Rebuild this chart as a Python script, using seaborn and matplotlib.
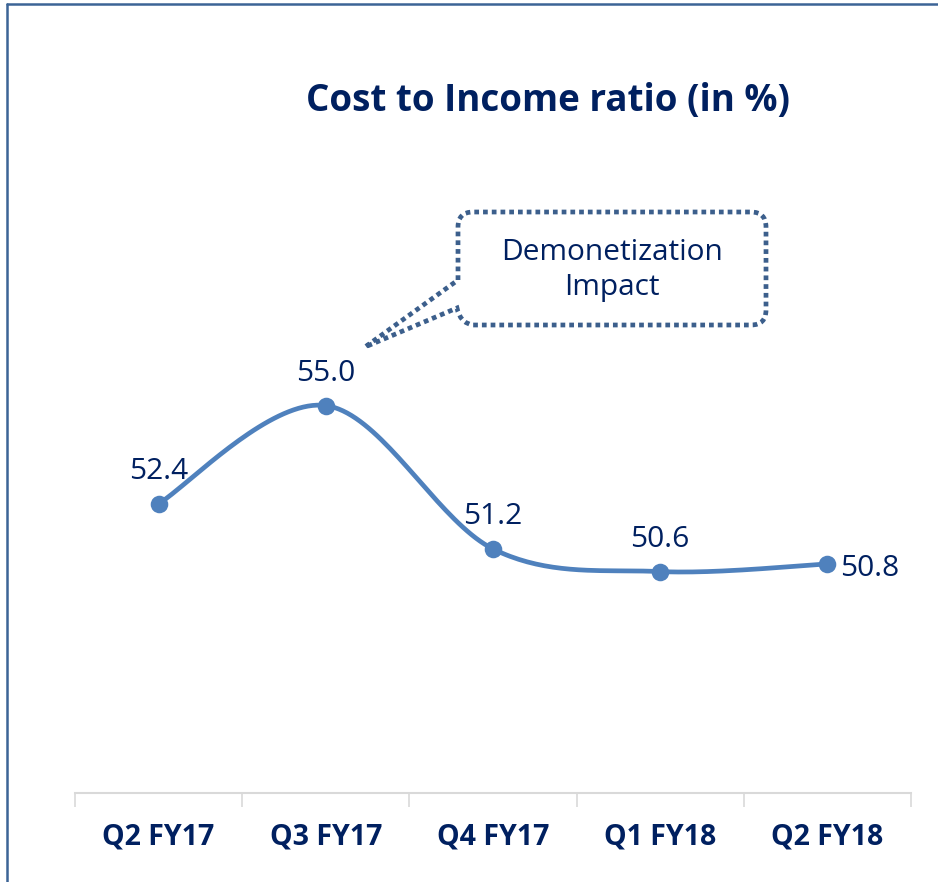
import numpy as np
import pandas as pd
import matplotlib
matplotlib.use("Agg")
import matplotlib.pyplot as plt
import seaborn as sns
from matplotlib.path import Path
from matplotlib.patches import PathPatch
from matplotlib.lines import Line2D

# =========================
# DADOS
# =========================
quarters = ["Q2 FY17", "Q3 FY17", "Q4 FY17", "Q1 FY18", "Q2 FY18"]
ratio = [52.4, 55.0, 51.2, 50.6, 50.8]
title = "Cost to Income ratio (in %)"
callout_text = "Demonetization\nImpact"

# =========================
# CORES / ESTILO
# =========================
navy = "#002060"
line_blue = "#4F81BD"
frame_blue = "#3C6496"
callout_blue = "#3C5F8C"

sns.set_theme(style="white")
plt.rcParams["font.family"] = ["Open Sans", "DejaVu Sans"]

W, H = 938, 882
fig = plt.figure(figsize=(W / 100, H / 100), dpi=100)
ax = fig.add_axes([75 / W, 1 - 793 / H, (911 - 75) / W, (793 - 100) / H])


def px(x, y):
    # pixel (topo-esquerda) -> fração da figura
    return x / W, 1 - y / H


# =========================
# CURVA SUAVIZADA (Catmull-Rom, como no Excel)
# =========================
xi = np.arange(len(ratio), dtype=float)
yi = np.array(ratio)
pts = np.column_stack([xi, yi])
ext = np.vstack([pts[0], pts, pts[-1]])
curve = []
for i in range(len(pts) - 1):
    p0, p1, p2, p3 = ext[i], ext[i + 1], ext[i + 2], ext[i + 3]
    c1 = p1 + (p2 - p0) / 6
    c2 = p2 - (p3 - p1) / 6
    t = np.linspace(0, 1, 40)[:, None]
    seg = ((1 - t) ** 3) * p1 + 3 * ((1 - t) ** 2) * t * c1 + 3 * (1 - t) * t ** 2 * c2 + t ** 3 * p2
    curve.append(seg if i == 0 else seg[1:])
curve = np.vstack(curve)
smooth = pd.DataFrame({"x": curve[:, 0], "y": curve[:, 1]})
df = pd.DataFrame({"x": xi, "y": yi, "q": quarters})

sns.lineplot(data=smooth, x="x", y="y", sort=False, color=line_blue, lw=3.4, ax=ax)
sns.scatterplot(data=df, x="x", y="y", color=line_blue, s=160, edgecolor=line_blue,
                linewidth=0, zorder=5, ax=ax)

# rótulos dos valores
for i, v in enumerate(ratio):
    if i == len(ratio) - 1:
        ax.annotate(f"{v:.1f}", (i, v), xytext=(9, -3), textcoords="offset points",
                    ha="left", va="center", fontsize=21.5, color=navy)
    else:
        ax.annotate(f"{v:.1f}", (i, v), xytext=(0, 13), textcoords="offset points",
                    ha="center", va="bottom", fontsize=21.5, color=navy)

# =========================
# EIXOS
# =========================
ax.set_xlim(-0.5, len(quarters) - 0.5)
ax.set_ylim(44.73, 63.1)
ax.set_yticks([])
ax.set_xticks(xi)
ax.set_xticklabels(quarters, fontsize=20.5, fontweight="bold", color=navy)
ax.set_xticks(np.arange(-0.5, len(quarters)), minor=True)
ax.tick_params(axis="x", which="major", length=0, pad=21)
ax.tick_params(axis="x", which="minor", length=10, width=1.2, color="#D9D9D9", bottom=True)
ax.set_xlabel("")
ax.set_ylabel("")
for s in ["top", "right", "left"]:
    ax.spines[s].set_visible(False)
ax.spines["bottom"].set_color("#D9D9D9")
ax.spines["bottom"].set_linewidth(1.5)

fig.text(548 / W, 1 - 101 / H, title, ha="center", va="center",
         fontsize=26.5, fontweight="bold", color=navy)

# =========================
# BALÃO "Demonetization Impact"
# =========================
x0, x1, y0, y1, r = 458, 766, 212, 325, 15
tip = (365, 347)
verts = [
    (x0, 280), (x0, y0 + r), (x0, y0), (x0 + r, y0),
    (x1 - r, y0), (x1, y0), (x1, y0 + r),
    (x1, y1 - r), (x1, y1), (x1 - r, y1),
    (x0 + r, y1), (x0 + 2, y1 - 2), (457, 308),
    tip, (x0, 280),
]
codes = [Path.MOVETO, Path.LINETO, Path.CURVE3, Path.CURVE3,
         Path.LINETO, Path.CURVE3, Path.CURVE3,
         Path.LINETO, Path.CURVE3, Path.CURVE3,
         Path.LINETO, Path.CURVE3, Path.CURVE3,
         Path.LINETO, Path.LINETO]
callout = PathPatch(Path([px(*v) for v in verts], codes), transform=fig.transFigure,
                    facecolor="white", edgecolor=callout_blue, lw=3.4,
                    linestyle=(0, (1, 0.85)), capstyle="butt", zorder=10)
fig.add_artist(callout)
fig.text(612 / W, 1 - 270 / H, callout_text, ha="center", va="center",
         fontsize=21.5, color=navy, linespacing=1.3, zorder=11)

# moldura (esquerda e topo)
fig.add_artist(Line2D([7 / W, 7 / W], [0, 1 - 4 / H], color=frame_blue, lw=1.8))
fig.add_artist(Line2D([7 / W, 1], [1 - 4 / H, 1 - 4 / H], color=frame_blue, lw=1.8))

fig.savefig("out.png", dpi=100)
